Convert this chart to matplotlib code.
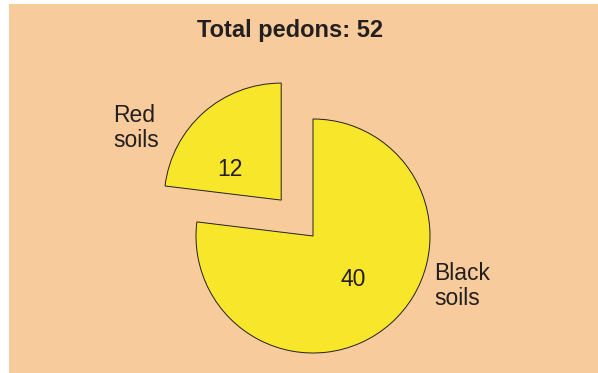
import matplotlib
matplotlib.use("Agg")
import matplotlib.pyplot as plt
from matplotlib.patches import Rectangle

plt.rcParams['font.family'] = ['Liberation Sans', 'DejaVu Sans']

categories = ["Black\nsoils", "Red\nsoils"]
pedons = [40, 12]
title = "Total pedons: {}".format(sum(pedons))

W, H = 598, 373
fig = plt.figure(figsize=(W / 100, H / 100), dpi=100, facecolor="white")

ax = fig.add_axes([0, 0, 1, 1])
ax.set_facecolor("none")
ax.axis("off")

# peach panel behind the pie
ax.add_patch(Rectangle((9, 0), W - 9, H - 4, facecolor="#F7CB9C",
                       edgecolor="none", zorder=-5))

yellow = "#F8E62A"
ink = "#231F20"
cx, cy, r = 313, H - 236, 117

# explode offsets are in data units here, so scale by the radius
wedges, _ = ax.pie(pedons, startangle=90, counterclock=False,
                   explode=[0, 0.41 * r], center=(cx, cy), radius=r,
                   colors=[yellow, yellow],
                   wedgeprops=dict(edgecolor=ink, linewidth=0.7))
ax.set_xlim(0, W)
ax.set_ylim(0, H)
ax.set_aspect("auto")
ax.axis("off")

fs = 16.5
ax.text(290, H - 31, title, ha="center", va="center", fontsize=17,
        fontweight="bold", color=ink)
ax.text(113, H - 128, categories[1], ha="left", va="center", fontsize=fs,
        color=ink, linespacing=1.1)
ax.text(434, H - 286, categories[0], ha="left", va="center", fontsize=fs,
        color=ink, linespacing=1.1)
ax.text(230, H - 170, str(pedons[1]), ha="center", va="center", fontsize=fs,
        color=ink)
ax.text(353, H - 279, str(pedons[0]), ha="center", va="center", fontsize=fs,
        color=ink)

fig.savefig("out.png", dpi=100, facecolor="white")
